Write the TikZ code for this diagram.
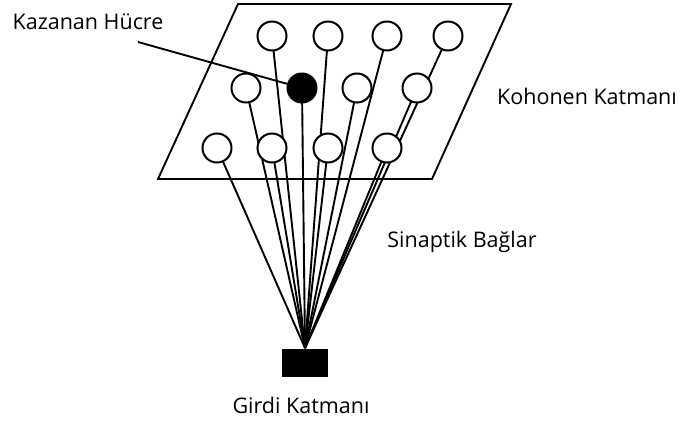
\documentclass[tikz,border=0pt]{standalone}
\usepackage{fontspec}
\setmainfont{Open Sans}
\usetikzlibrary{backgrounds}

\tikzset{
  neuron/.style={circle,draw,line width=2pt,fill=white,minimum size=29pt,inner sep=0pt},
  winner/.style={neuron,fill=black},
  bag/.style={line width=1.9pt},
  etiket/.style={font=\fontsize{21.5}{24}\selectfont}
}

\begin{document}
\begin{tikzpicture}[x=1pt,y=-1pt,line width=1.9pt]
\useasboundingbox (0,0) rectangle (688,425);
            % Kohonen katmani
            \draw (238,4) -- (511,4) -- (432,179) -- (158,179) -- cycle;
            \node[neuron] (a1) at (272,36) {};
            \node[neuron] (a2) at (328,36) {};
            \node[neuron] (a3) at (387,36) {};
            \node[neuron] (a4) at (448,36) {};
            \node[neuron] (b1) at (246,88) {};
            \node[winner] (b2) at (302,88) {};
            \node[neuron] (b3) at (357,88) {};
            \node[neuron] (b4) at (417,88) {};
            \node[neuron] (c1) at (217,148) {};
            \node[neuron] (c2) at (272,148) {};
            \node[neuron] (c3) at (328,148) {};
            \node[neuron] (c4) at (387,148) {};
            % girdi
            \node[fill=black,minimum width=46pt,minimum height=28pt,inner sep=0pt] (girdi) at (305,363) {};
            % sinaptik baglar
            \begin{scope}[on background layer]
              \foreach \n in {a1,a2,a3,a4,b1,b2,b3,b4,c1,c2,c3,c4}
                \draw[bag] (\n.center) -- (girdi.north);
            \end{scope}
            % etiketler
            \node[etiket] (kazanan) at (88,22) {Kazanan Hücre};
            \coordinate (kucu) at (138,42);
            \draw[bag] (kucu) -- (b2);
            \node[etiket] (kohonen) at (587,96) {Kohonen Katmanı};
            \node[etiket] (sinaptik) at (462,242) {Sinaptik Bağlar};
            \node[etiket] (girdiad) at (301,405) {Girdi Katmanı};
\end{tikzpicture}
\end{document}
